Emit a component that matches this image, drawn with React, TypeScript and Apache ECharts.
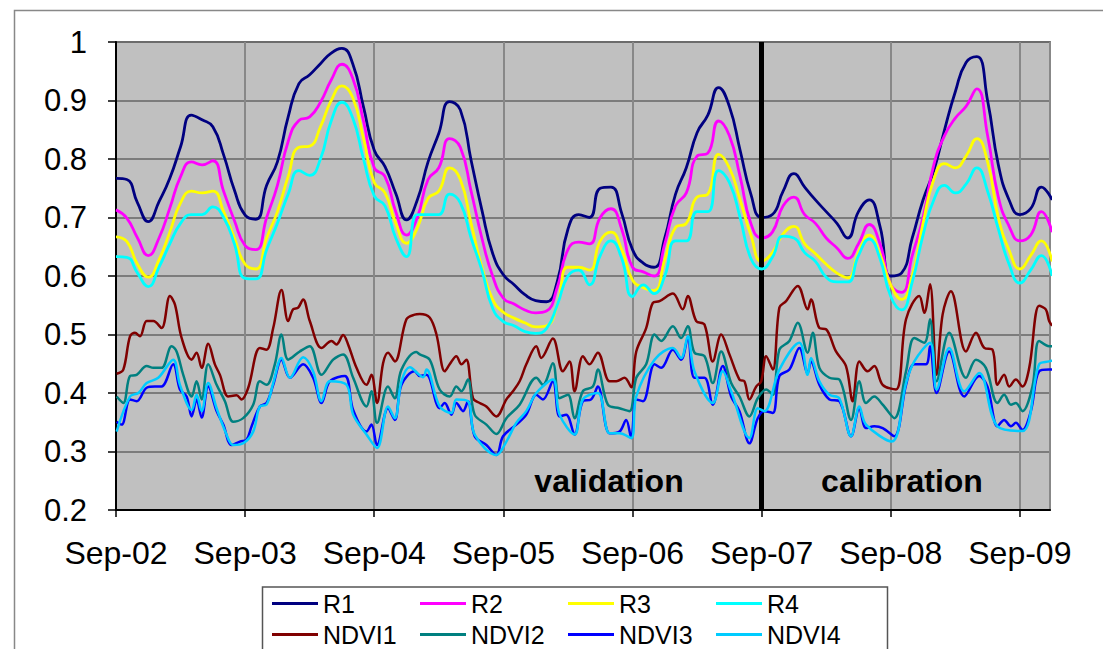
import React, { useEffect, useRef } from 'react';
import * as echarts from 'echarts';

// time unit: months since Sep-02
const yearLabels = ['Sep-02', 'Sep-03', 'Sep-04', 'Sep-05', 'Sep-06', 'Sep-07', 'Sep-08', 'Sep-09'];
const seriesNames = ['R1', 'R2', 'R3', 'R4', 'NDVI1', 'NDVI2', 'NDVI3', 'NDVI4'];
const seriesColors = ['#000080', '#FF00FF', '#FFFF00', '#00FFFF', '#800000', '#008080', '#0000FF', '#00CCFF'];

// R series: monthly samples (month index = array index)
const R1 = [0.767, 0.765, 0.725, 0.693, 0.727, 0.767, 0.821, 0.875, 0.867, 0.855,
  0.807, 0.747, 0.704, 0.697, 0.755, 0.795, 0.872, 0.929, 0.944, 0.963,
  0.981, 0.989, 0.963, 0.889, 0.815, 0.787, 0.741, 0.696, 0.73, 0.795,
  0.844, 0.898, 0.884, 0.798, 0.713, 0.639, 0.602, 0.585, 0.568, 0.558,
  0.556, 0.59, 0.68, 0.705, 0.70, 0.75, 0.752, 0.707, 0.645, 0.622,
  0.615, 0.665, 0.74, 0.785, 0.845, 0.875, 0.922, 0.89, 0.815, 0.74,
  0.70, 0.705, 0.745, 0.775, 0.752, 0.73, 0.71, 0.69, 0.665, 0.71,
  0.73, 0.685, 0.60, 0.605, 0.665, 0.73, 0.78, 0.85, 0.915, 0.965,
  0.975, 0.90, 0.79, 0.73, 0.705, 0.715, 0.752, 0.73];
const R2 = [0.713, 0.699, 0.665, 0.635, 0.665, 0.716, 0.77, 0.795, 0.79, 0.797,
  0.745, 0.695, 0.652, 0.645, 0.70, 0.755, 0.83, 0.866, 0.872, 0.897,
  0.935, 0.962, 0.938, 0.865, 0.785, 0.77, 0.71, 0.67, 0.70, 0.765,
  0.785, 0.835, 0.82, 0.745, 0.665, 0.60, 0.562, 0.552, 0.542, 0.537,
  0.54, 0.58, 0.645, 0.658, 0.655, 0.70, 0.715, 0.68, 0.615, 0.607,
  0.60, 0.655, 0.72, 0.742, 0.805, 0.81, 0.865, 0.84, 0.77, 0.69,
  0.665, 0.675, 0.72, 0.735, 0.705, 0.69, 0.665, 0.648, 0.63, 0.655,
  0.688, 0.655, 0.585, 0.572, 0.635, 0.70, 0.79, 0.84, 0.87, 0.89,
  0.92, 0.84, 0.735, 0.685, 0.66, 0.67, 0.71, 0.675];
const R3 = [0.667, 0.659, 0.62, 0.598, 0.628, 0.675, 0.725, 0.745, 0.742, 0.745,
  0.71, 0.665, 0.62, 0.612, 0.665, 0.71, 0.77, 0.82, 0.822, 0.855,
  0.90, 0.925, 0.905, 0.835, 0.76, 0.742, 0.69, 0.656, 0.682, 0.733,
  0.745, 0.785, 0.765, 0.69, 0.615, 0.56, 0.538, 0.528, 0.52, 0.513,
  0.515, 0.55, 0.615, 0.615, 0.61, 0.66, 0.675, 0.645, 0.593, 0.58,
  0.575, 0.628, 0.683, 0.69, 0.735, 0.74, 0.808, 0.785, 0.73, 0.67,
  0.625, 0.64, 0.672, 0.685, 0.655, 0.638, 0.62, 0.605, 0.597, 0.64,
  0.67, 0.637, 0.585, 0.56, 0.60, 0.69, 0.765, 0.792, 0.785, 0.805,
  0.835, 0.795, 0.70, 0.644, 0.612, 0.635, 0.66, 0.625];
const R4 = [0.633, 0.632, 0.605, 0.582, 0.615, 0.655, 0.69, 0.705, 0.705, 0.718,
  0.70, 0.655, 0.596, 0.595, 0.645, 0.69, 0.74, 0.78, 0.772, 0.80,
  0.865, 0.897, 0.87, 0.80, 0.737, 0.72, 0.665, 0.633, 0.705, 0.705,
  0.705, 0.74, 0.725, 0.665, 0.61, 0.545, 0.522, 0.515, 0.505, 0.502,
  0.51, 0.55, 0.60, 0.61, 0.585, 0.635, 0.66, 0.63, 0.565, 0.585,
  0.57, 0.60, 0.66, 0.66, 0.71, 0.71, 0.78, 0.76, 0.70, 0.63,
  0.612, 0.632, 0.668, 0.665, 0.64, 0.625, 0.598, 0.59, 0.59, 0.635,
  0.663, 0.63, 0.565, 0.542, 0.59, 0.67, 0.73, 0.755, 0.742, 0.757,
  0.785, 0.745, 0.68, 0.62, 0.588, 0.61, 0.635, 0.60];

// NDVI series: [month, value] read at irregular dates
const NDVI1 = [[0.06, 0.433], [0.68, 0.44], [1.3, 0.497], [1.76, 0.503], [2.23, 0.497], [2.85, 0.523], [3.47, 0.523], [4.24, 0.511],
  [5.01, 0.566], [5.48, 0.551], [6.1, 0.494], [7.03, 0.457], [7.49, 0.469], [7.96, 0.443], [8.57, 0.484], [9.19, 0.449],
  [9.66, 0.431], [10.43, 0.394], [11.21, 0.396], [11.67, 0.389], [12.29, 0.409], [13.37, 0.477], [13.99, 0.474], [14.61, 0.511],
  [15.38, 0.576], [16.0, 0.523], [16.46, 0.543], [16.93, 0.546], [17.39, 0.56], [18.01, 0.523], [19.1, 0.477], [20.03, 0.489],
  [20.49, 0.483], [21.11, 0.499], [21.57, 0.483], [22.35, 0.443], [23.28, 0.414], [23.74, 0.431], [24.26, 0.383], [24.82, 0.451],
  [25.28, 0.469], [25.91, 0.454], [26.99, 0.526], [27.76, 0.534], [28.23, 0.535], [29.15, 0.529], [29.78, 0.5], [30.55, 0.437],
  [31.01, 0.449], [31.63, 0.463], [32.1, 0.449], [32.56, 0.457], [33.18, 0.391], [33.8, 0.383], [34.42, 0.377], [35.35, 0.36],
  [36.28, 0.389], [36.89, 0.403], [37.51, 0.42], [38.13, 0.449], [39.06, 0.48], [39.52, 0.46], [40.6, 0.493], [41.53, 0.437],
  [42.15, 0.454], [42.62, 0.403], [43.39, 0.463], [44.01, 0.449], [44.78, 0.469], [45.87, 0.42], [46.49, 0.42], [47.26, 0.426],
  [47.88, 0.41], [48.35, 0.471], [49.27, 0.511], [49.89, 0.554], [50.51, 0.557], [51.75, 0.57], [52.67, 0.543], [53.14, 0.566],
  [53.92, 0.523], [54.69, 0.517], [55.46, 0.454], [56.24, 0.5], [57.01, 0.466], [57.94, 0.423], [58.4, 0.42], [58.87, 0.389],
  [59.49, 0.411], [59.96, 0.42], [60.42, 0.463], [61.04, 0.44], [61.65, 0.546], [62.27, 0.557], [63.36, 0.583], [64.28, 0.543],
  [64.59, 0.56], [65.37, 0.511], [65.99, 0.509], [66.91, 0.471], [67.84, 0.446], [68.46, 0.386], [69.08, 0.454], [69.85, 0.437],
  [70.47, 0.446], [71.25, 0.414], [72.49, 0.406], [73.42, 0.526], [74.65, 0.566], [75.12, 0.537], [75.65, 0.586], [76.26, 0.431],
  [76.82, 0.534], [77.59, 0.574], [78.99, 0.471], [79.92, 0.503], [80.69, 0.477], [81.46, 0.474], [81.92, 0.414], [82.54, 0.431],
  [83.01, 0.411], [83.63, 0.423], [84.24, 0.411], [84.87, 0.443], [85.79, 0.549], [86.41, 0.543], [86.72, 0.523], [87.0, 0.515]];
const NDVI2 = [[0.06, 0.394], [0.68, 0.383], [1.3, 0.429], [1.92, 0.431], [2.85, 0.446], [3.47, 0.443], [4.24, 0.443], [5.17, 0.48],
  [5.63, 0.471], [6.25, 0.431], [7.03, 0.394], [7.49, 0.42], [7.96, 0.389], [8.57, 0.449], [9.35, 0.414], [10.12, 0.386],
  [10.89, 0.351], [11.82, 0.357], [12.75, 0.38], [13.37, 0.42], [13.99, 0.414], [14.76, 0.449], [15.38, 0.5], [16.0, 0.457],
  [17.08, 0.471], [18.01, 0.48], [19.1, 0.431], [20.18, 0.457], [21.11, 0.466], [22.04, 0.426], [23.28, 0.377], [23.74, 0.403],
  [24.26, 0.349], [25.28, 0.411], [25.91, 0.391], [26.53, 0.44], [27.92, 0.47], [28.23, 0.466], [29.15, 0.457], [30.08, 0.406],
  [31.01, 0.394], [31.63, 0.411], [32.1, 0.403], [32.71, 0.423], [33.33, 0.363], [34.42, 0.346], [35.35, 0.33], [36.28, 0.357],
  [37.51, 0.38], [39.06, 0.426], [39.68, 0.414], [40.6, 0.451], [41.22, 0.391], [42.0, 0.397], [42.62, 0.357], [43.39, 0.403],
  [44.32, 0.411], [44.78, 0.44], [45.71, 0.38], [46.79, 0.374], [47.72, 0.369], [48.35, 0.426], [49.27, 0.449], [50.05, 0.5],
  [50.67, 0.489], [51.75, 0.514], [52.52, 0.494], [53.14, 0.514], [53.76, 0.469], [54.69, 0.463], [55.46, 0.417], [56.24, 0.471],
  [57.17, 0.417], [57.94, 0.394], [58.87, 0.36], [59.64, 0.391], [60.42, 0.406], [61.04, 0.397], [61.65, 0.474], [62.58, 0.489],
  [63.36, 0.52], [64.28, 0.469], [64.75, 0.503], [65.37, 0.443], [66.3, 0.426], [67.22, 0.423], [68.31, 0.354], [69.08, 0.42],
  [69.7, 0.383], [70.47, 0.394], [71.25, 0.38], [72.33, 0.357], [73.42, 0.437], [74.19, 0.494], [75.12, 0.486], [75.65, 0.526],
  [76.26, 0.42], [77.43, 0.503], [78.99, 0.426], [79.92, 0.457], [80.84, 0.443], [81.92, 0.383], [82.54, 0.397], [83.17, 0.38],
  [83.63, 0.383], [84.24, 0.369], [85.17, 0.411], [85.79, 0.489], [86.72, 0.48], [87.0, 0.48]];
const NDVI3 = [[0.06, 0.351], [0.53, 0.346], [1.3, 0.389], [1.92, 0.386], [2.85, 0.409], [3.62, 0.411], [4.24, 0.411], [5.32, 0.449],
  [5.94, 0.406], [6.56, 0.394], [7.03, 0.36], [7.49, 0.389], [7.96, 0.358], [8.57, 0.411], [9.35, 0.369], [9.97, 0.346],
  [10.74, 0.311], [11.51, 0.317], [12.13, 0.32], [12.6, 0.343], [13.37, 0.377], [13.99, 0.383], [14.61, 0.414], [15.38, 0.457],
  [16.16, 0.426], [17.39, 0.449], [18.32, 0.426], [19.1, 0.383], [19.87, 0.42], [21.27, 0.429], [22.04, 0.371], [23.28, 0.334],
  [23.74, 0.346], [24.26, 0.311], [25.28, 0.374], [25.91, 0.354], [26.53, 0.414], [27.76, 0.437], [28.23, 0.429], [28.85, 0.431],
  [30.08, 0.374], [30.55, 0.383], [31.17, 0.363], [31.63, 0.383], [32.25, 0.369], [32.71, 0.386], [33.33, 0.326], [34.42, 0.311],
  [35.35, 0.294], [35.97, 0.326], [37.2, 0.346], [38.13, 0.363], [39.06, 0.397], [39.68, 0.389], [40.6, 0.42], [41.22, 0.36],
  [41.84, 0.363], [42.62, 0.329], [43.39, 0.386], [44.16, 0.389], [44.78, 0.411], [45.87, 0.331], [46.79, 0.334], [47.41, 0.354],
  [47.88, 0.323], [48.35, 0.389], [48.97, 0.386], [50.05, 0.449], [50.67, 0.443], [51.75, 0.474], [52.52, 0.457], [53.14, 0.494],
  [53.76, 0.426], [54.69, 0.426], [55.46, 0.38], [56.39, 0.446], [57.17, 0.394], [57.94, 0.369], [58.87, 0.314], [59.64, 0.357],
  [60.26, 0.369], [61.04, 0.366], [61.65, 0.429], [62.58, 0.44], [63.51, 0.477], [64.28, 0.434], [64.59, 0.454], [65.37, 0.414],
  [66.3, 0.389], [67.22, 0.386], [68.31, 0.326], [69.08, 0.374], [69.7, 0.34], [70.47, 0.343], [71.25, 0.34], [72.33, 0.326],
  [73.42, 0.414], [74.19, 0.449], [75.27, 0.449], [75.65, 0.48], [76.26, 0.4], [77.43, 0.471], [78.83, 0.394], [80.22, 0.429],
  [80.99, 0.411], [81.92, 0.343], [82.54, 0.354], [83.17, 0.343], [83.63, 0.349], [84.24, 0.337], [85.02, 0.369], [85.79, 0.437],
  [86.72, 0.44], [87.0, 0.44]];
const NDVI4 = [[0.06, 0.334], [1.3, 0.394], [2.08, 0.4], [2.85, 0.417], [3.93, 0.426], [5.32, 0.457], [5.94, 0.414], [7.03, 0.371],
  [7.49, 0.397], [7.96, 0.369], [8.57, 0.417], [9.35, 0.374], [10.27, 0.329], [10.89, 0.311], [11.82, 0.314], [12.75, 0.334],
  [13.37, 0.377], [13.99, 0.38], [14.61, 0.417], [15.38, 0.46], [16.16, 0.426], [17.39, 0.461], [18.32, 0.437], [19.1, 0.386],
  [19.87, 0.42], [21.42, 0.414], [22.04, 0.363], [23.28, 0.329], [24.26, 0.306], [25.28, 0.377], [25.91, 0.357], [26.53, 0.42],
  [27.3, 0.444], [28.54, 0.427], [28.85, 0.44], [30.08, 0.377], [31.17, 0.366], [31.63, 0.389], [32.71, 0.386], [33.33, 0.329],
  [35.35, 0.294], [36.28, 0.317], [37.2, 0.349], [38.13, 0.369], [39.06, 0.4], [40.6, 0.423], [41.22, 0.363], [42.62, 0.329],
  [43.39, 0.389], [44.78, 0.4], [45.87, 0.331], [46.79, 0.331], [47.88, 0.323], [48.35, 0.394], [50.05, 0.457], [51.75, 0.477],
  [52.52, 0.46], [53.14, 0.497], [53.76, 0.437], [55.46, 0.383], [56.39, 0.437], [57.17, 0.403], [58.87, 0.323], [59.64, 0.374],
  [60.26, 0.369], [61.65, 0.44], [63.51, 0.486], [64.28, 0.431], [64.59, 0.46], [65.37, 0.42], [66.3, 0.397], [67.22, 0.391],
  [68.31, 0.326], [69.08, 0.377], [69.7, 0.346], [72.08, 0.317], [73.42, 0.417], [74.19, 0.454], [75.65, 0.486], [76.26, 0.406],
  [77.43, 0.477], [78.83, 0.403], [80.22, 0.434], [81.92, 0.343], [84.24, 0.335], [85.79, 0.449], [86.72, 0.454], [87.0, 0.455]];

const rSeries = [R1, R2, R3, R4];
const ndviSeries = [NDVI1, NDVI2, NDVI3, NDVI4];
const splitMonth = 60; // Sep-07
const annotations = ['validation', 'calibration'];

const FONT = '"Liberation Sans", Arial, sans-serif';

export default function App() {
  const ref = useRef<HTMLDivElement>(null);
  useEffect(() => {
    if (!ref.current) return;
    const chart = echarts.init(ref.current, null, { renderer: 'svg' });
    const series: any[] = [];
    rSeries.forEach((vals, k) => {
      series.push({
        name: seriesNames[k], type: 'line',
        data: vals.map((v, i) => [i, v]),
        showSymbol: false, smooth: 0.5,
        lineStyle: { color: seriesColors[k], width: 2.8 },
        itemStyle: { color: seriesColors[k] },
        z: 2 + k,
      });
    });
    ndviSeries.forEach((pts, j) => {
      const k = j + 4;
      series.push({
        name: seriesNames[k], type: 'line',
        data: pts,
        showSymbol: false, smooth: 0.35,
        lineStyle: { color: seriesColors[k], width: 2.5 },
        itemStyle: { color: seriesColors[k] },
        z: 2 + k,
      });
    });
    series.push({
      type: 'line', data: [], silent: true,
      markLine: {
        silent: true, symbol: ['none', 'none'], label: { show: false },
        lineStyle: { color: '#000', width: 5, type: 'solid' },
        data: [{ xAxis: splitMonth }],
      },
      z: 20,
    });
    chart.setOption({
      animation: false,
      backgroundColor: '#fff',
      textStyle: { fontFamily: FONT },
      grid: {
        left: 116, top: 42, right: 53, bottom: 139,
        show: true, backgroundColor: '#C0C0C0', borderColor: '#808080', borderWidth: 2,
      },
      xAxis: {
        type: 'value', min: 0, max: 86.8, interval: 12,
        axisLine: { show: true, lineStyle: { color: '#000', width: 2 } },
        axisTick: { show: true, length: 7, lineStyle: { color: '#000', width: 1.5 } },
        axisLabel: {
          margin: 27, fontSize: 32, color: '#000', fontFamily: FONT, showMaxLabel: false,
          formatter: (v: number) => {
            const r = Math.round(v / 12);
            return Math.abs(v - r * 12) < 1e-6 && yearLabels[r] ? yearLabels[r] : '';
          },
        },
        splitLine: { show: true, lineStyle: { color: '#888', width: 2 } },
      },
      yAxis: {
        type: 'value', min: 0.2, max: 1, interval: 0.1,
        axisLine: { show: true, lineStyle: { color: '#000', width: 2 } },
        axisTick: { show: true, length: 8, lineStyle: { color: '#000', width: 1.5 } },
        axisLabel: {
          margin: 29, fontSize: 31, color: '#000', fontFamily: FONT,
          formatter: (v: number) => String(Math.round(v * 10) / 10),
        },
        splitLine: { show: true, lineStyle: { color: '#666', width: 1.5 } },
      },
      legend: {
        data: seriesNames,
        left: 272, top: 591, width: 600,
        padding: 0,
        itemWidth: 46, itemHeight: 3, itemGap: 6,
        icon: 'rect',
        textStyle: { fontSize: 25, color: '#000', fontFamily: FONT, width: 91, lineHeight: 24 },
      },
      graphic: [
        {
          type: 'rect', silent: true, z: -10,
          shape: { x: 14.5, y: 10.5, width: 1300, height: 900 },
          style: { fill: 'none', stroke: '#888', lineWidth: 1.5 },
        },
        {
          type: 'rect', silent: true,
          shape: { x: 262.5, y: 587, width: 625, height: 100 },
          style: { fill: 'none', stroke: '#555', lineWidth: 1.5 },
        },
        {
          type: 'text', x: 609, y: 481, z: 100,
          style: { text: annotations[0], font: `bold 32px ${FONT}`, fill: '#000', align: 'center', verticalAlign: 'middle' },
        },
        {
          type: 'text', x: 902, y: 481, z: 100,
          style: { text: annotations[1], font: `bold 32px ${FONT}`, fill: '#000', align: 'center', verticalAlign: 'middle' },
        },
      ],
      series,
    });
    return () => chart.dispose();
  }, []);
  return <div ref={ref} style={{ position: 'fixed', left: 0, top: 0, width: 1103, height: 649 }} />;
}
